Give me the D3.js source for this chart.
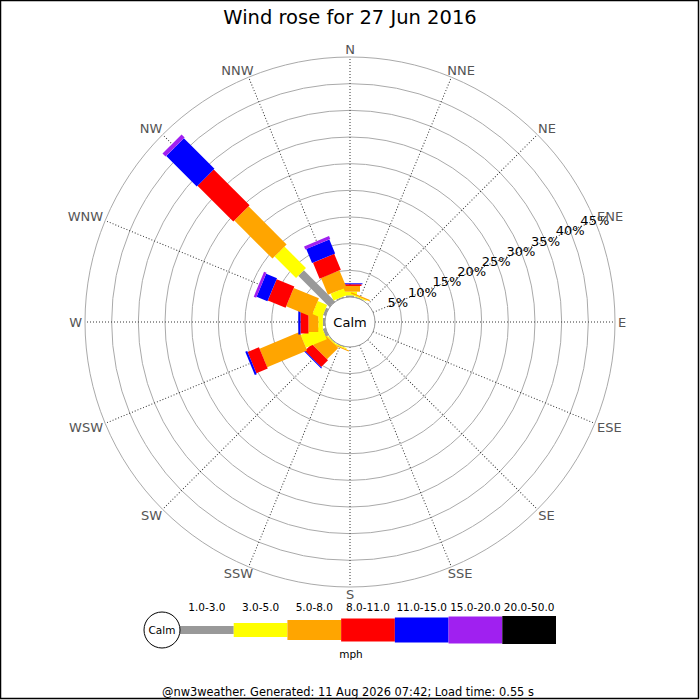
<!DOCTYPE html>
<html>
<head>
<meta charset="utf-8">
<script src="https://cdn.jsdelivr.net/npm/d3@7"></script>
<style>
  body { margin: 0; background: #fff; }
  text { font-family: "DejaVu Sans", sans-serif; }
</style>
</head>
<body>
<script>
// Wind rose, 27 Jun 2016
// ---------------------------------------------
var directions = ['N', 'NNE', 'NE', 'ENE', 'E', 'ESE', 'SE', 'SSE',
                  'S', 'SSW', 'SW', 'WSW', 'W', 'WNW', 'NW', 'NNW'];
var speedBins = ['1.0-3.0', '3.0-5.0', '5.0-8.0', '8.0-11.0', '11.0-15.0', '15.0-20.0', '20.0-50.0'];

// percent of the day per direction, one array per speed bin
var bin1to3   = [0.3, 0.1, 0, 0, 0, 0, 0, 0, 0, 0.1, 0.1, 0.56, 0.4, 0.5, 8.3, 0.2];
var bin3to5   = [0.7, 0.2, 0, 0, 0, 0, 0, 0, 0, 0.2, 0.2, 4.24, 0.86, 1.9, 5.7, 1.4];
var bin5to8   = [1.07, 0.25, 0, 0, 0, 0, 0, 0, 0, 0.2, 3.0, 8.1, 1.84, 5.1, 10.1, 3.4];
var bin8to11  = [0.32, 0, 0, 0, 0, 0, 0, 0, 0, 0, 1.8, 2.3, 1.5, 3.6, 9.5, 3.25];
var bin11to15 = [0.18, 0, 0, 0, 0, 0, 0, 0, 0, 0, 0.2, 0.4, 0.4, 2.2, 8.1, 2.85];
var bin15to20 = [0, 0, 0, 0, 0, 0, 0, 0, 0, 0, 0, 0, 0, 0.5, 0.8, 0.6];
var bin20to50 = [0, 0, 0, 0, 0, 0, 0, 0, 0, 0, 0, 0, 0, 0, 0, 0];

var ringTicks = [5, 10, 15, 20, 25, 30, 35, 40, 45];

var series = [bin1to3, bin3to5, bin5to8, bin8to11, bin11to15, bin15to20, bin20to50];
var colors = ['#999999', '#ffff00', '#ffa500', '#ff0000', '#0000ff', '#a020f0', '#000000'];
var barWidths = [8, 14, 20, 23, 25, 27, 28];

// Width and height
var w = 700;
var h = 700;
var cx = 350;
var cy = 322;
var calmR = 25;

var r = d3.scaleLinear().domain([0, 45]).range([calmR, 265]);
var angle = d3.scaleLinear().domain([0, directions.length]).range([0, 360]);

var svg = d3.select('body').append('svg').attr('width', w).attr('height', h);

svg.append('rect')
  .attr('x', 0.5).attr('y', 0.5)
  .attr('width', w - 2).attr('height', h - 2)
  .attr('fill', '#fff').attr('stroke', '#000').attr('stroke-width', 1.5);

svg.append('text')
  .text('Wind rose for 27 Jun 2016')
  .attr('x', cx).attr('y', 24)
  .attr('text-anchor', 'middle')
  .attr('font-size', '19.5px')
  .attr('fill', '#000');

var rose = svg.append('g').attr('transform', 'translate(' + cx + ',' + cy + ')');

// rings
rose.selectAll('circle.ring').data(ringTicks).enter()
  .append('circle')
  .attr('class', 'ring')
  .attr('r', function(d) { return r(d); })
  .attr('fill', 'none')
  .attr('stroke', '#aaaaaa')
  .attr('stroke-width', 1);

// spokes
rose.selectAll('line.spoke').data(directions).enter()
  .append('line')
  .attr('class', 'spoke')
  .attr('x1', 0).attr('y1', -calmR)
  .attr('x2', 0).attr('y2', -r(45))
  .attr('transform', function(d, i) { return 'rotate(' + angle(i) + ')'; })
  .attr('stroke', '#333')
  .attr('stroke-width', 1)
  .attr('stroke-dasharray', '1,2');

// bars, one group per direction drawn clockwise from N
directions.forEach(function(dir, i) {
  var g = rose.append('g').attr('transform', 'rotate(' + angle(i) + ')');
  var cum = 0;
  series.forEach(function(s, k) {
    var v = s[i];
    if (!v) return;
    var r0 = cum === 0 ? 0 : r(cum);
    cum += v;
    var r1 = r(cum);
    g.append('rect')
      .attr('x', -barWidths[k] / 2)
      .attr('y', -r1)
      .attr('width', barWidths[k])
      .attr('height', r1 - r0)
      .attr('fill', colors[k]);
  });
});

// calm circle
rose.append('circle')
  .attr('r', calmR)
  .attr('fill', '#fff')
  .attr('stroke', '#999')
  .attr('stroke-width', 1);
rose.append('text')
  .text('Calm')
  .attr('x', 0).attr('y', 0)
  .attr('dy', '0.35em')
  .attr('text-anchor', 'middle')
  .attr('font-size', '13px')
  .attr('fill', '#000');

// percentage labels along ENE
var labA = angle(3) * Math.PI / 180;
rose.selectAll('text.pct').data(ringTicks).enter()
  .append('text')
  .attr('class', 'pct')
  .text(function(d) { return d + '%'; })
  .attr('x', function(d) { return r(d) * Math.sin(labA); })
  .attr('y', function(d) { return -r(d) * Math.cos(labA); })
  .attr('dy', '0.35em')
  .attr('text-anchor', 'middle')
  .attr('font-size', '13px')
  .attr('fill', '#000');

// compass labels
rose.selectAll('text.dir').data(directions).enter()
  .append('text')
  .attr('class', 'dir')
  .text(function(d) { return d; })
  .attr('text-anchor', 'middle')
  .attr('dy', '0.35em')
  .attr('font-size', '13px')
  .attr('fill', '#555')
  .each(function(d, i) {
    var a = angle(i) * Math.PI / 180;
    var s = Math.sin(a), c = Math.cos(a);
    var hw = this.getComputedTextLength() / 2;
    var rr = r(45) + 3;
    var sx = Math.abs(s) < 1e-6 ? 0 : Math.sign(s) * Math.sqrt(Math.abs(s));
    var sy = Math.abs(c) < 1e-6 ? 0 : Math.sign(c) * Math.sqrt(Math.abs(c));
    d3.select(this)
      .attr('x', rr * s + sx * hw)
      .attr('y', -rr * c - sy * 4.5);
  });

// legend
var legY = 630;
var legX = d3.scaleLinear().domain([0, speedBins.length]).range([180, 556]);
var leg = svg.append('g');

leg.selectAll('rect').data(speedBins).enter()
  .append('rect')
  .attr('x', function(d, i) { return legX(i); })
  .attr('y', function(d, i) { return legY - barWidths[i] / 2; })
  .attr('width', function(d, i) { return legX(i + 1) - legX(i); })
  .attr('height', function(d, i) { return barWidths[i]; })
  .attr('fill', function(d, i) { return colors[i]; });

leg.selectAll('text.bin').data(speedBins).enter()
  .append('text')
  .attr('class', 'bin')
  .text(function(d) { return d; })
  .attr('x', function(d, i) { return (legX(i) + legX(i + 1)) / 2; })
  .attr('y', 611)
  .attr('text-anchor', 'middle')
  .attr('font-size', '10.5px')
  .attr('fill', '#000');

leg.append('circle')
  .attr('cx', 162).attr('cy', legY).attr('r', 18)
  .attr('fill', '#fff').attr('stroke', '#000').attr('stroke-width', 1);
leg.append('text')
  .text('Calm')
  .attr('x', 162).attr('y', legY)
  .attr('dy', '0.35em')
  .attr('text-anchor', 'middle')
  .attr('font-size', '10.5px')
  .attr('fill', '#000');

leg.append('text')
  .text('mph')
  .attr('x', 351).attr('y', 658)
  .attr('text-anchor', 'middle')
  .attr('font-size', '10.5px')
  .attr('fill', '#000');

svg.append('text')
  .text('@nw3weather. Generated: 11 Aug 2026 07:42; Load time: 0.55 s')
  .attr('x', 348).attr('y', 696)
  .attr('text-anchor', 'middle')
  .attr('font-size', '11.4px')
  .attr('fill', '#000');
</script>
</body>
</html>
